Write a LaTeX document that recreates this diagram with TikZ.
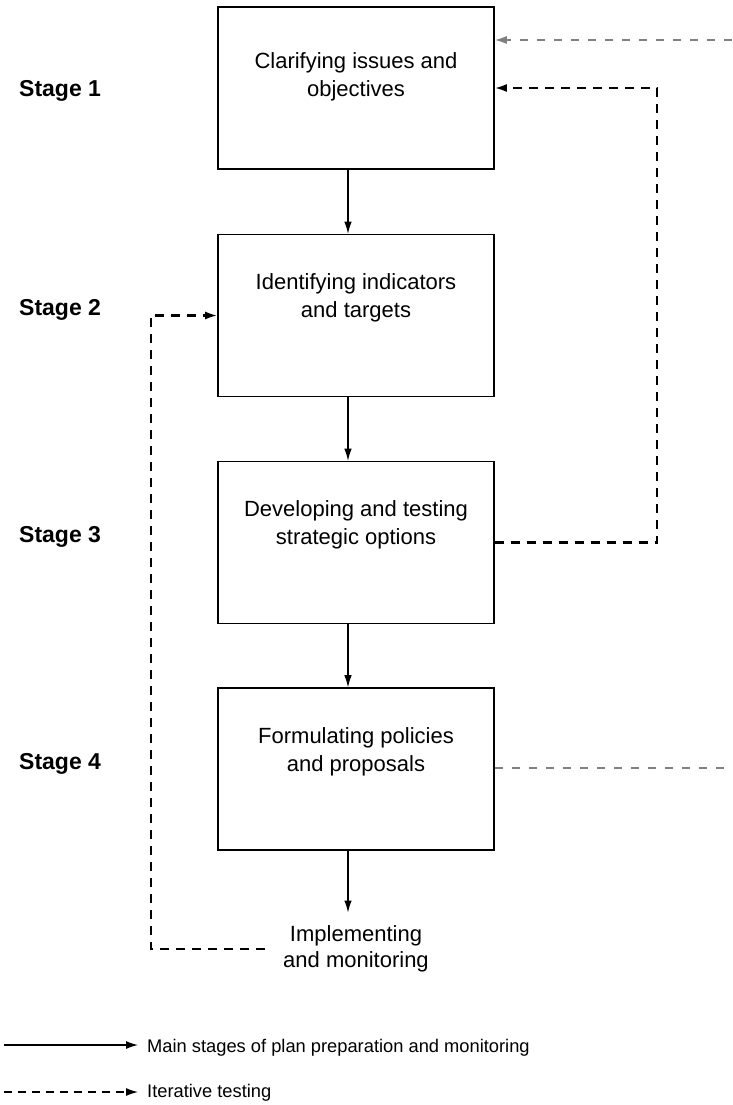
\documentclass[tikz,border=0pt]{standalone}
\usepackage{fontspec}
\setmainfont{Liberation Sans}
\usetikzlibrary{arrows.meta}
\begin{document}
\begin{tikzpicture}[x=1pt,y=-1pt,
  stagebox/.style={draw=black, line width=1.6pt, minimum width=276pt, minimum height=162pt, inner sep=0pt},
  boxtext/.style={align=center, inner sep=0pt, font=\fontsize{22}{28}\selectfont},
  stagelabel/.style={anchor=base west, inner sep=0pt, font=\fontsize{23}{27}\selectfont\bfseries},
  legendtext/.style={anchor=west, inner sep=0pt, font=\fontsize{18.3}{22}\selectfont},
  mainarrow/.style={draw=black, line width=1.1pt, -{Latex[length=12pt,width=7.5pt]}},
  legendarrow/.style={draw=black, line width=1.3pt, -{Latex[length=12pt,width=8pt]}},
  iterarrow/.style={draw=black, line width=2.1pt, dash pattern=on 9pt off 7pt, -{Latex[length=12pt,width=8pt]}},
  greyarrow/.style={draw=black!50, line width=1.5pt, dash pattern=on 8pt off 9pt, -{Latex[length=12pt,width=8pt]}},
  greyline/.style={draw=black!50, line width=1.5pt, dash pattern=on 8pt off 9pt}]

\useasboundingbox (0,0) rectangle (732,1105);

% the four stage boxes
\node[stagebox] (b1) at (356,88) {};
\node[stagebox] (b2) at (356,315.5) {};
\node[stagebox] (b3) at (356,542.5) {};
\node[stagebox] (b4) at (356,769) {};

\node[boxtext] (t1) at (356,77) {Clarifying issues and\\objectives};
\node[boxtext] (t2) at (356,298) {Identifying indicators\\and targets};
\node[boxtext] (t3) at (356,525) {Developing and testing\\strategic options};
\node[boxtext] (t4) at (356,752) {Formulating policies\\and proposals};

\node[align=center, inner xsep=8pt, inner ysep=13pt, font=\fontsize{22}{26}\selectfont] (impl) at (356,949) {Implementing\\and monitoring};

% stage labels
\node[stagelabel] (s1) at (19,97) {Stage 1};
\node[stagelabel] (s2) at (19,315) {Stage 2};
\node[stagelabel] (s3) at (19,542) {Stage 3};
\node[stagelabel] (s4) at (19,769) {Stage 4};

% main sequence
\coordinate (ax) at (348,0);
\draw[mainarrow] (b1.south -| ax) -- (b2.north -| ax);
\draw[mainarrow] (b2.south -| ax) -- (b3.north -| ax);
\draw[mainarrow] (b3.south -| ax) -- (b4.north -| ax);
\draw[mainarrow] (b4.south -| ax) -- (impl.north -| ax);

% iterative testing loops
\coordinate (lx) at (151,0);
\coordinate (rx) at (657,0);
\draw[iterarrow] ([xshift=-10pt]impl.west) -| (lx |- b2.west) -- (b2.west);
\draw[iterarrow] (b3.east) -| (rx |- b1.east) -- (b1.east);

\coordinate (g1) at (732,40);
\draw[greyarrow] (g1) -- (g1 -| b1.east);
\coordinate (g4) at (732,768);
\draw[greyline] (b4.east |- g4) -- (g4);

% legend
\coordinate (la1) at (4,1045);
\coordinate (lb1) at (138,1045);
\coordinate (la2) at (4,1092);
\coordinate (lb2) at (138,1092);
\draw[legendarrow] (la1) -- (lb1);
\draw[iterarrow, line width=1.3pt, dash pattern=on 8pt off 6pt] (la2) -- (lb2);
\node[legendtext] (leg1) at (147,1048) {Main stages of plan preparation and monitoring};
\node[legendtext] (leg2) at (147,1093) {Iterative testing};
\end{tikzpicture}
\end{document}
